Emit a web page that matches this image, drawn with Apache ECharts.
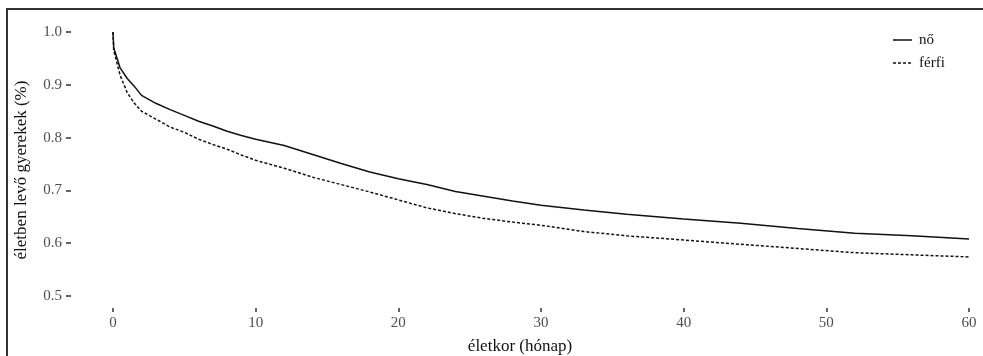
<!DOCTYPE html>
<html>
<head>
<meta charset="utf-8">
<script src="https://cdn.jsdelivr.net/npm/echarts@6/dist/echarts.min.js"></script>
<style>
  html, body { margin: 0; padding: 0; background: #fff; }
  #chart { width: 983px; height: 356px; }
</style>
</head>
<body>
<div id="chart"></div>
<script>
// months since birth, survival share for girls (nő) and boys (férfi)
const months = [0, 0.05, 0.5, 1, 1.5, 2, 3, 4, 5, 6, 7, 8, 9, 10, 12, 14, 16, 18, 20, 22, 24, 26, 28, 30, 33, 36, 40, 44, 48, 52, 56, 60];
const female = [1.0, 0.97, 0.932, 0.912, 0.897, 0.880, 0.865, 0.853, 0.842, 0.831, 0.822, 0.812, 0.804, 0.797, 0.785, 0.768, 0.751, 0.735, 0.722, 0.711, 0.698, 0.689, 0.680, 0.672, 0.663, 0.655, 0.646, 0.638, 0.628, 0.619, 0.614, 0.608];
const male = [1.0, 0.965, 0.918, 0.885, 0.865, 0.850, 0.835, 0.820, 0.810, 0.797, 0.787, 0.778, 0.767, 0.757, 0.742, 0.725, 0.711, 0.697, 0.682, 0.667, 0.656, 0.647, 0.640, 0.634, 0.622, 0.614, 0.606, 0.598, 0.590, 0.582, 0.578, 0.574];
const xTicks = [0, 10, 20, 30, 40, 50, 60];
const yTicks = [0.5, 0.6, 0.7, 0.8, 0.9, 1.0];

const serif = 'Liberation Serif, DejaVu Serif, serif';
const chart = echarts.init(document.getElementById('chart'));

// panel padding like ggplot's expansion
const xMin = -2.944;
const yMin = 0.4773;

const option = {
  animation: false,
  backgroundColor: '#fff',
  grid: { left: 71, right: 14, top: 32, bottom: 48, outerBoundsMode: 'none', containLabel: false },
  graphic: [
    {
      type: 'rect',
      shape: { x: 7, y: 9, width: 1000, height: 400 },
      style: { fill: 'none', stroke: '#333', lineWidth: 2 },
      silent: true,
    },
    // legend
    { type: 'line', shape: { x1: 893, y1: 40, x2: 912, y2: 40 }, style: { stroke: '#111', lineWidth: 1.5 }, silent: true },
    { type: 'text', left: 919, top: 33, style: { text: 'nő', font: '15px ' + serif, fill: '#111' }, silent: true },
    { type: 'line', shape: { x1: 893, y1: 63, x2: 912, y2: 63 }, style: { stroke: '#111', lineWidth: 1.5, lineDash: [3, 2] }, silent: true },
    { type: 'text', left: 919, top: 56, style: { text: 'férfi', font: '15px ' + serif, fill: '#111' }, silent: true },
  ],
  xAxis: {
    type: 'value',
    min: xMin,
    max: xTicks[xTicks.length - 1],
    name: 'életkor (hónap)',
    nameLocation: 'middle',
    nameGap: 30,
    nameTextStyle: { fontFamily: serif, fontSize: 17, color: '#111' },
    axisLine: { show: false, onZero: false },
    axisTick: { show: true, length: 4, customValues: xTicks, lineStyle: { color: '#333', width: 1.5 } },
    axisLabel: { margin: 8, customValues: xTicks, fontFamily: serif, fontSize: 15, color: '#4d4d4d' },
    splitLine: { show: false },
  },
  yAxis: {
    type: 'value',
    min: yMin,
    max: yTicks[yTicks.length - 1],
    name: 'életben levő gyerekek (%)',
    nameLocation: 'middle',
    nameGap: 41,
    nameTextStyle: { fontFamily: serif, fontSize: 17, color: '#111' },
    axisLine: { show: false, onZero: false },
    axisTick: { show: true, length: 5, customValues: yTicks, lineStyle: { color: '#333', width: 1.5 } },
    axisLabel: {
      margin: 9,
      customValues: yTicks,
      fontFamily: serif,
      fontSize: 15,
      color: '#4d4d4d',
      formatter: v => v.toFixed(1),
    },
    splitLine: { show: false },
  },
  series: [
    {
      name: 'nő',
      type: 'line',
      symbol: 'none',
      data: months.map((m, i) => [m, female[i]]),
      lineStyle: { color: '#111', width: 1.5, type: 'solid' },
    },
    {
      name: 'férfi',
      type: 'line',
      symbol: 'none',
      data: months.map((m, i) => [m, male[i]]),
      lineStyle: { color: '#111', width: 1.5, type: [3, 2] },
    },
  ],
};

chart.setOption(option);
</script>
</body>
</html>
